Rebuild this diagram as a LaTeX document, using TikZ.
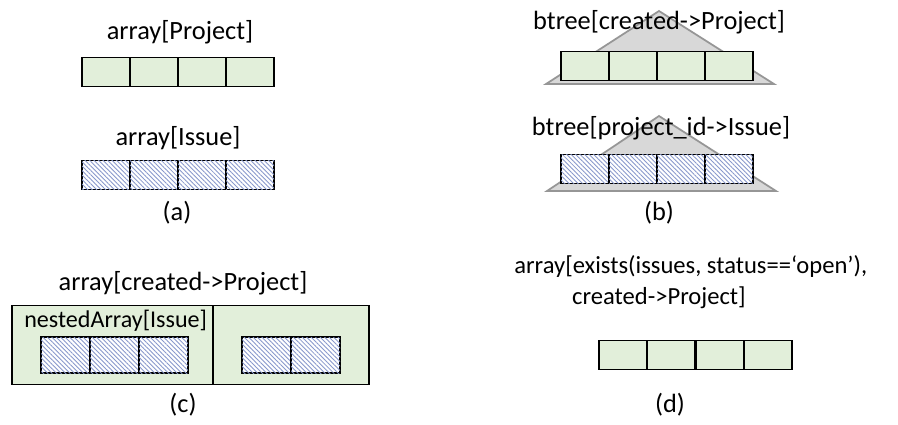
\documentclass[tikz,border=0pt]{standalone}
\usepackage{fontspec}
\setmainfont{Carlito}
\usepackage{tikz}
\usetikzlibrary{positioning,patterns.meta}
\definecolor{cellGreen}{RGB}{226,239,218}
\definecolor{hatchBlue}{RGB}{72,96,176}
\definecolor{treeGray}{RGB}{216,216,216}
\definecolor{treeEdge}{RGB}{150,150,150}

\begin{document}
\begin{tikzpicture}[x=0.02cm, y=-0.02cm,
  lbl/.style={font=\fontsize{15}{17}\selectfont, inner sep=0pt},
  gcell/.style={draw, line width=1.1pt, fill=cellGreen, minimum width=0.96cm, minimum height=0.58cm, inner sep=0pt},
  bcell/.style={draw, line width=1.1pt, fill=white, minimum width=0.96cm, minimum height=0.58cm, inner sep=0pt,
    postaction={pattern={Lines[angle=-45,distance=1.8pt,line width=0.5pt]}, pattern color=hatchBlue!65}},
  tree/.style={fill=treeGray, draw=treeEdge, line width=1pt}]
\useasboundingbox (0,0) rectangle (898,424);

% (a) plain arrays
\node[lbl] (aProjLbl) at (180,32) {array[Project]};
\foreach \i in {1,...,4}
  \node[gcell] (aProj\i) at ({82+48*(\i-0.5)},72) {};
\node[lbl] (aIssLbl) at (178,138) {array[Issue]};
\foreach \i in {1,...,4}
  \node[bcell] (aIss\i) at ({82+48*(\i-0.5)},175) {};
\node[lbl] (capA) at (177,213) {(a)};

% (b) btrees
\draw[tree] (546,84) -- (659,11) -- (774,84) -- cycle;
\foreach \i in {1,...,4}
  \node[gcell] (bProj\i) at ({561+48*(\i-0.5)},66) {};
\node[lbl] (bProjLbl) at (659,22) {btree[created->Project]};
\draw[tree] (547,191) -- (659,116) -- (776,191) -- cycle;
\foreach \i in {1,...,4}
  \node[bcell] (bIss\i) at ({561+48*(\i-0.5)},169) {};
\node[lbl] (bIssLbl) at (661,128) {btree[project\_id->Issue]};
\node[lbl] (capB) at (659,213) {(b)};

% (c) nested array
\node[lbl] (cLbl) at (183,283) {array[created->Project]};
\node[gcell, minimum width=4.02cm, minimum height=1.58cm] (cOuter1) at (112.5,345) {};
\node[gcell, minimum width=3.12cm, minimum height=1.58cm] (cOuter2) at (291,345) {};
\node[lbl, anchor=west, font=\fontsize{13.7}{16}\selectfont] (cNestLbl) at (24,321) {nestedArray[Issue]};
\foreach \i in {1,...,3}
  \node[bcell, minimum width=0.98cm, minimum height=0.72cm] (cIss\i) at ({41+49*(\i-0.5)},355) {};
\foreach \i in {1,2}
  \node[bcell, minimum width=0.98cm, minimum height=0.72cm] (cIssB\i) at ({242+49*(\i-0.5)},355) {};
\node[lbl] (capC) at (183,405) {(c)};

% (d) array keyed by an exists predicate
\node[lbl, align=left, anchor=west, font=\fontsize{14}{17}\selectfont] (dLbl) at (514,282)
  {array[exists(issues, status==‘open’),\\[1pt]\hspace*{2.35em}created->Project]};
\foreach \i in {1,...,4}
  \node[gcell] (dProj\i) at ({599+48.3*(\i-0.5)},355) {};
\node[lbl] (capD) at (670,405) {(d)};
\end{tikzpicture}
\end{document}
